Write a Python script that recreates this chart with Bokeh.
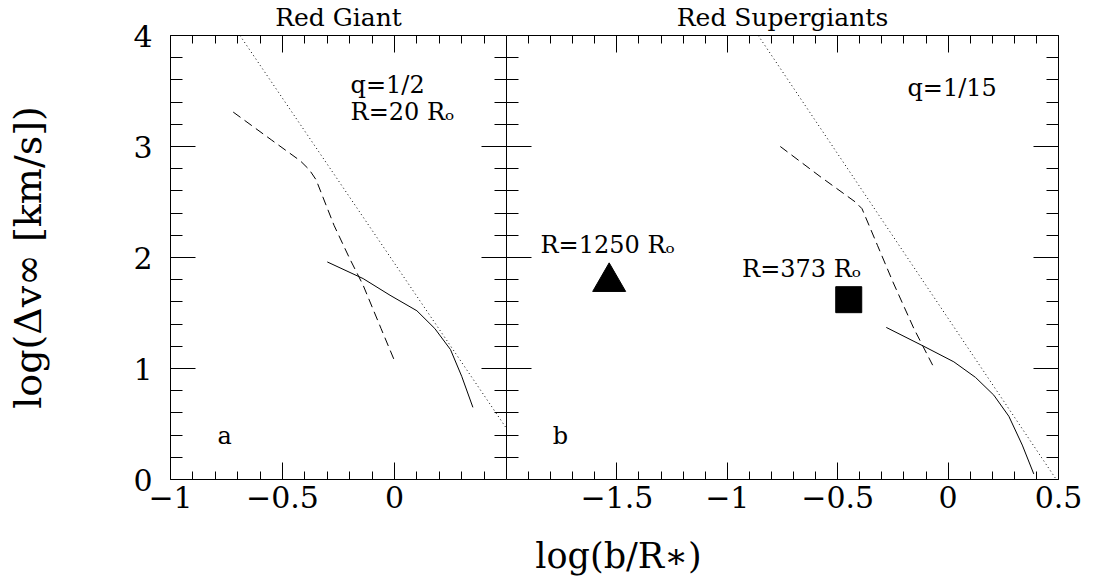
from bokeh.plotting import figure
from bokeh.models import Range1d, LinearAxis, FixedTicker, Label
from bokeh.layouts import row, column
from bokeh.embed import file_html
from bokeh.resources import INLINE

FONT = "DejaVu Serif"

# ---------------- data ----------------
# panel a (Red Giant)
a_dot_x = [-0.69, 0.50]
a_dot_y = [4.00, 0.46]
a_dash_x = [-0.72, -0.55, -0.42, -0.38, -0.35, -0.27, -0.20, -0.14, -0.06, 0.00]
a_dash_y = [3.31, 3.06, 2.87, 2.79, 2.70, 2.29, 1.99, 1.75, 1.36, 1.07]
a_solid_x = [-0.30, -0.14, -0.02, 0.10, 0.18, 0.25, 0.30, 0.35]
a_solid_y = [1.96, 1.81, 1.66, 1.52, 1.36, 1.17, 0.93, 0.65]

# panel b (Red Supergiants)
b_dot_x = [-0.86, 0.49]
b_dot_y = [4.00, 0.00]
b_dash_x = [-0.76, -0.58, -0.42, -0.39, -0.32, -0.25, -0.155, -0.07]
b_dash_y = [3.00, 2.73, 2.50, 2.44, 2.11, 1.78, 1.36, 1.03]
b_solid_x = [-0.28, -0.11, 0.026, 0.124, 0.207, 0.275, 0.336, 0.388]
b_solid_y = [1.37, 1.20, 1.06, 0.92, 0.76, 0.57, 0.31, 0.05]
tri_x = [-1.535]
tri_y = [1.78]
sq_x = [-0.45]
sq_y = [1.62]

# ticks / labels
y_major = [0, 1, 2, 3, 4]
y_labels = ["0", "1", "2", "3", "4"]
y_minor = [0.2, 0.4, 0.6, 0.8, 1.2, 1.4, 1.6, 1.8, 2.2, 2.4, 2.6, 2.8, 3.2, 3.4, 3.6, 3.8]
a_x_major = [-1, -0.5, 0]
a_x_labels = ["\u22121", "\u22120.5", "0"]
a_x_minor = [-0.9, -0.8, -0.7, -0.6, -0.4, -0.3, -0.2, -0.1, 0.1, 0.2, 0.3, 0.4]
b_x_major = [-1.5, -1, -0.5, 0, 0.5]
b_x_labels = ["\u22121.5", "\u22121", "\u22120.5", "0", "0.5"]
b_x_minor = [-1.9, -1.8, -1.7, -1.6, -1.4, -1.3, -1.2, -1.1, -0.9, -0.8, -0.7, -0.6,
             -0.4, -0.3, -0.2, -0.1, 0.1, 0.2, 0.3, 0.4]

titles = ["Red Giant", "Red Supergiants"]
a_notes = ["q=1/2", "R=20 R\u2092", "a"]
b_notes = ["q=1/15", "R=1250 R\u2092", "R=373 R\u2092", "b"]
x_title = "log(b/R\u2217)"
y_title = "log(\u0394v\u221e [km/s])"

LEFT_W = 170 + 336
RIGHT_W = 552 + 40
TOTAL_W = LEFT_W + RIGHT_W


def add_axis(p, side, ticks, minor, labels, tin, tmin, show):
    ax = LinearAxis(ticker=FixedTicker(ticks=ticks, minor_ticks=minor))
    ax.major_tick_in = tin
    ax.major_tick_out = 0
    ax.minor_tick_in = tmin
    ax.minor_tick_out = 0
    for attr in ("axis_line_color", "major_tick_line_color", "minor_tick_line_color"):
        setattr(ax, attr, "black")
    ax.axis_line_width = 1
    if show:
        ax.major_label_overrides = dict(zip(ticks, labels))
        ax.major_label_text_font = FONT
        ax.major_label_text_font_size = "30px"
        ax.major_label_text_color = "black"
    else:
        ax.major_label_overrides = {t: "" for t in ticks}
        ax.major_label_text_font_size = "0px"
        ax.major_label_standoff = 0
    p.add_layout(ax, side)
    return ax


def make_fig(xr, fw, bl, br, title):
    p = figure(x_range=Range1d(*xr), y_range=Range1d(0, 4),
               frame_width=fw, frame_height=444,
               min_border_left=bl, min_border_right=br,
               min_border_top=34, min_border_bottom=44,
               x_axis_location=None, y_axis_location=None,
               title=title,
               output_backend="svg", toolbar_location=None)
    p.grid.visible = False
    p.outline_line_color = None
    p.background_fill_color = "white"
    p.border_fill_color = "white"
    p.title.align = "center"
    p.title.vertical_align = "top"
    p.title.standoff = 4
    p.title.text_font = FONT
    p.title.text_font_size = "25px"
    p.title.text_font_style = "normal"
    p.title.text_color = "black"
    return p


def note(p, x, y, text, size="24px"):
    p.add_layout(Label(x=x, y=y, text=text, text_font=FONT, text_font_size=size,
                       text_align="left", text_baseline="alphabetic", text_color="black"))


# ---------------- left panel ----------------
p1 = make_fig((-1, 0.5), 336, 170, 0, titles[0])
xa = add_axis(p1, "below", a_x_major, a_x_minor, a_x_labels, 17, 8, True)
xa.major_label_standoff = 6
add_axis(p1, "above", a_x_major, a_x_minor, a_x_labels, 17, 8, False)
ya = add_axis(p1, "left", y_major, y_minor, y_labels, 25, 12, True)
ya.major_label_standoff = 18
ya.axis_label = y_title
ya.axis_label_text_font = FONT
ya.axis_label_text_font_size = "38px"
ya.axis_label_text_font_style = "normal"
ya.axis_label_text_color = "black"
ya.axis_label_standoff = 80
add_axis(p1, "right", y_major, y_minor, y_labels, 25, 12, False)

p1.line(a_dot_x, a_dot_y, line_color="black", line_width=1, line_dash="1 3")
p1.line(a_dash_x, a_dash_y, line_color="black", line_width=1, line_dash="9 5")
p1.line(a_solid_x, a_solid_y, line_color="black", line_width=1)

note(p1, -0.196, 3.55, a_notes[0])
note(p1, -0.196, 3.31, a_notes[1])
note(p1, -0.79, 0.39, a_notes[2])

# ---------------- right panel ----------------
p2 = make_fig((-2, 0.5), 552, 0, 40, titles[1])
xb = add_axis(p2, "below", b_x_major, b_x_minor, b_x_labels, 17, 8, True)
xb.major_label_standoff = 6
add_axis(p2, "above", b_x_major, b_x_minor, b_x_labels, 17, 8, False)
add_axis(p2, "left", y_major, y_minor, y_labels, 25, 12, False)
add_axis(p2, "right", y_major, y_minor, y_labels, 25, 12, False)

p2.line(b_dot_x, b_dot_y, line_color="black", line_width=1, line_dash="1 3")
p2.line(b_dash_x, b_dash_y, line_color="black", line_width=1, line_dash="9 5")
p2.line(b_solid_x, b_solid_y, line_color="black", line_width=1)
p2.scatter(tri_x, tri_y, marker="triangle", size=33, fill_color="black", line_color="black")
p2.scatter(sq_x, sq_y, marker="square", size=26, fill_color="black", line_color="black")

note(p2, -0.184, 3.53, b_notes[0])
note(p2, -1.846, 2.11, b_notes[1])
note(p2, -0.933, 1.90, b_notes[2])
note(p2, -1.79, 0.39, b_notes[3])

# ---------------- x-axis title strip ----------------
p3 = figure(width=TOTAL_W, height=54, min_border=0,
            x_range=Range1d(0, 1), y_range=Range1d(0, 1),
            x_axis_location=None, y_axis_location=None,
            output_backend="svg", toolbar_location=None)
p3.grid.visible = False
p3.outline_line_color = None
p3.add_layout(Label(x=618, y=22, x_units="screen", y_units="screen", text=x_title,
                    text_font=FONT, text_font_size="35px", text_align="center",
                    text_baseline="middle", text_color="black"))

layout = column(row(p1, p2, spacing=0), p3, spacing=0)
open("out.html", "w").write(file_html(layout, INLINE))
